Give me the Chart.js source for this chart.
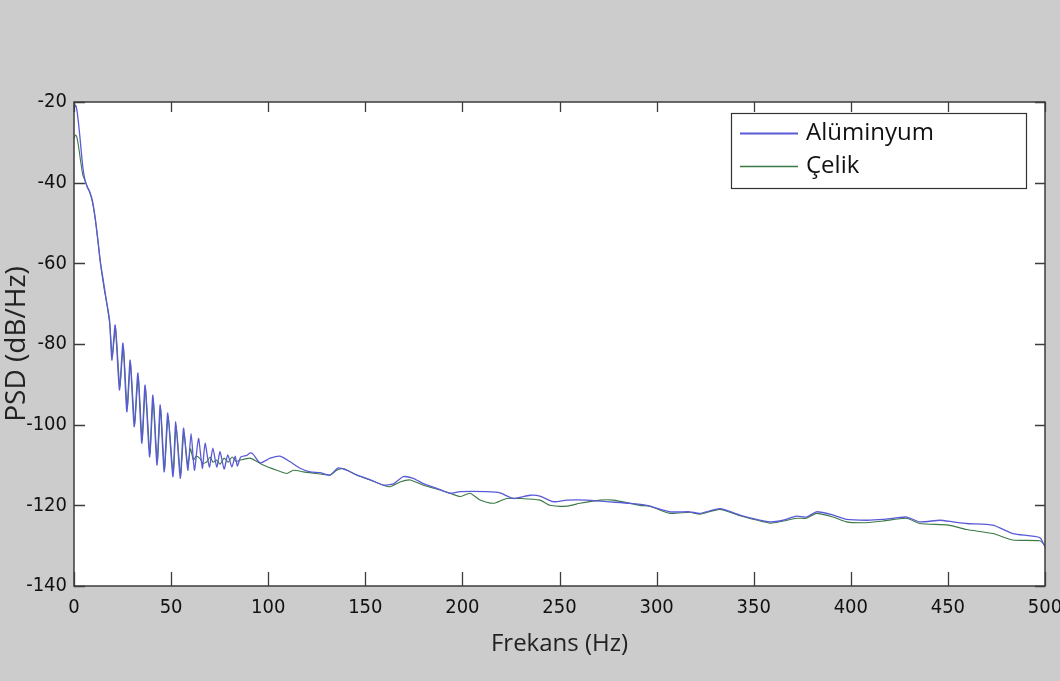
<!DOCTYPE html>
<html>
<head>
<meta charset="utf-8">
<script src="https://cdn.jsdelivr.net/npm/chart.js@4.4.1/dist/chart.umd.min.js"></script>
<style>
  html, body { margin: 0; padding: 0; background: #cccccc; }
  #wrap { width: 1060px; height: 681px; position: relative; }
</style>
</head>
<body>
<div id="wrap"><canvas id="c" width="1060" height="681"></canvas></div>
<script>
// ---------- data ----------
const seriesNames = ['Alüminyum', 'Çelik'];

const freqAl = [0, 0.7, 1.5, 2.5, 3.5, 4.5, 5.5, 6.8, 8, 9.5, 11, 12.5, 13.5, 15, 16.6, 18.3,
  19.5, 21.2, 23.4, 25.2, 27.2, 28.9, 31.0, 32.9, 34.9, 36.6, 38.9, 40.6, 42.7, 44.4, 46.4, 48.3,
  50.9, 52.4, 54.7, 56.4, 58.6, 60.3, 62.0, 64.1, 66.1, 67.5, 69.7, 71.5, 73.5, 75.2, 77.3, 79.2,
  81.3, 83.0, 84.1, 85.9, 89.0, 90.7, 92.2, 95.8, 101, 106.1, 111.3, 116.4, 121.6, 126.7, 131.8,
  136.1, 140.5, 145.6, 152.4, 159.3, 164.4, 169.6, 174.7, 179.9, 186.8, 193.6, 198.8, 212.5, 219.4,
  226.2, 234.8, 239.9, 246.8, 253.7, 264.0, 274.3, 286.3, 294.9, 306.9, 317.1, 322.3, 332.6, 342.9,
  358.3, 365.2, 372.0, 377.2, 382.3, 390.9, 397.8, 408.1, 416.6, 428.7, 435.5, 445.8, 452.7, 459.6,
  473.2, 483.5, 497.3, 500];
const psdAl = [-21.8, -20.8, -22, -26, -31, -36, -39, -41, -42.2, -44.5, -49, -55, -59.5, -64, -69, -74,
  -84.0, -75.3, -91.4, -79.8, -96.8, -84.0, -100.5, -87.2, -104.6, -90.2, -108.0, -92.7, -110.0, -95.1, -111.7, -97.1,
  -112.9, -99.3, -113.3, -100.9, -111.3, -102.2, -111.3, -103.4, -110.8, -104.6, -110.5, -105.8, -110.5, -106.7, -111.0, -107.5,
  -110.5, -107.8, -110.3, -108.0, -107.6, -107.0, -107.3, -109.5, -108.3, -107.8, -109.2, -110.8, -111.7, -111.9, -112.5,
  -110.7, -111.3, -112.5, -113.6, -115.0, -114.7, -112.9, -113.3, -114.6, -115.8, -117.0, -116.6, -116.6, -116.9,
  -118.3, -117.5, -117.7, -119.1, -118.7, -118.7, -119.1, -119.5, -120.0, -121.6, -121.6, -122.0, -120.8, -122.4,
  -124.1, -123.7, -122.7, -122.9, -121.6, -122.4, -123.5, -123.7, -123.5, -122.9, -124.1, -123.7, -124.1, -124.5,
  -124.9, -127.0, -128.0, -130.3];

const freqCe = [0, 0.8, 1.6, 2.5, 3.5, 4.5, 5.5, 6.8, 8, 9.5, 11, 12.5, 14, 15.5, 17, 18.5,
  19.7, 21.4, 23.6, 25.4, 27.4, 29.1, 31.2, 33.1, 35.1, 36.8, 39.1, 40.8, 42.9, 44.6, 46.6, 48.5,
  51.1, 52.6, 54.9, 56.6, 58.6, 60.0, 61.5, 62.9, 64.9, 66.5, 68.4, 70.1, 71.6, 73.5, 75.2, 77.3,
  79.4, 81.4, 83.5, 85.4, 90.7, 97.4, 104.4, 109.6, 113.0, 118.1, 125.0, 131.9, 135.3, 138.7, 143.9,
  150.7, 159.3, 162.7, 167.9, 173.0, 179.9, 188.5, 193.6, 198.8, 203.9, 209.1, 215.9, 222.8, 229.6,
  239.9, 245.1, 253.7, 260.5, 270.8, 277.7, 291.4, 296.5, 306.9, 317.1, 322.3, 332.6, 342.9, 358.3,
  365.2, 372.0, 377.2, 382.3, 390.9, 397.8, 408.1, 416.6, 428.7, 435.5, 450.3, 459.6, 473.2, 483.5,
  497.3, 500];
const psdCe = [-29, -28.2, -29, -31.5, -35, -38, -39.3, -41, -42.2, -44.8, -49.3, -55.3, -61.3, -66.2, -70.3, -75.5,
  -83.0, -76.0, -90.5, -80.5, -96.0, -84.8, -99.8, -88.0, -103.8, -91.0, -107.2, -93.5, -109.2, -96.0, -111.0, -98.0,
  -112.2, -100.3, -112.5, -102.0, -110.0, -106.0, -108.8, -107.8, -108.4, -109.6, -109.2, -108.0, -109.3, -108.8, -109.8, -108.3,
  -109.3, -108.0, -109.1, -108.8, -108.3, -110.0, -111.3, -112.1, -111.3, -111.7, -112.1, -112.5, -111.3, -110.9, -112.1,
  -113.4, -115.0, -115.4, -114.2, -113.7, -115.0, -116.2, -117.0, -117.8, -117.0, -118.7, -119.5, -118.3, -118.3,
  -118.7, -120.0, -120.2, -119.5, -118.7, -118.7, -120.0, -120.2, -122.0, -121.7, -122.2, -121.0, -122.6, -124.4,
  -123.9, -123.2, -123.2, -122.0, -122.9, -124.1, -124.3, -123.9, -123.2, -124.5, -124.9, -126.0, -127.0, -128.6,
  -128.8, -129.9];

const xTickValues = [0, 50, 100, 150, 200, 250, 300, 350, 400, 450, 500];
const yTickValues = [-140, -120, -100, -80, -60, -40, -20];
const xAxisTitle = 'Frekans (Hz)';
const yAxisTitle = 'PSD (dB/Hz)';

// ---------- helpers ----------
const toPoints = (xs, ys) => xs.map((x, i) => ({ x: x, y: ys[i] }));

// pick a narrow font for tick labels if one is installed
function hasFont(name) {
  const cx = document.createElement('canvas').getContext('2d');
  const s = 'mmmwww-1408';
  cx.font = '30px monospace'; const a = cx.measureText(s).width;
  cx.font = "30px '" + name + "', monospace"; const b = cx.measureText(s).width;
  return Math.abs(a - b) > 0.5;
}
const narrowOK = hasFont('Liberation Sans Narrow');
const NARROW = narrowOK ? "'Liberation Sans Narrow', sans-serif" : "'DejaVu Sans Condensed', sans-serif";
const TICKSIZE = narrowOK ? 22 : 20;
const LABELF = "'Open Sans', 'Noto Sans', sans-serif";

// background + MATLAB-style box with inward ticks + boxed legend
const matlabPlugin = {
  id: 'matlabBox',
  beforeDraw(chart) {
    const { ctx, chartArea: a } = chart;
    ctx.save();
    ctx.fillStyle = '#cccccc';
    ctx.fillRect(0, 0, chart.width, chart.height);
    ctx.fillStyle = '#ffffff';
    ctx.fillRect(a.left, a.top, a.right - a.left, a.bottom - a.top);
    ctx.restore();
  },
  afterDatasetsDraw(chart) {
    const { ctx, chartArea: a, scales } = chart;
    ctx.save();
    ctx.strokeStyle = '#3c3c3c';
    ctx.lineWidth = 1.5;
    ctx.strokeRect(a.left, a.top, a.right - a.left, a.bottom - a.top);
    ctx.lineWidth = 1.3;
    ctx.beginPath();
    scales.x.ticks.forEach(t => {
      const px = Math.round(scales.x.getPixelForValue(t.value)) + 0.5;
      ctx.moveTo(px, a.bottom); ctx.lineTo(px, a.bottom - 14);
      ctx.moveTo(px, a.top); ctx.lineTo(px, a.top + 10);
    });
    scales.y.ticks.forEach(t => {
      const py = Math.round(scales.y.getPixelForValue(t.value)) + 0.5;
      ctx.moveTo(a.left, py); ctx.lineTo(a.left + 11, py);
      ctx.moveTo(a.right, py); ctx.lineTo(a.right - 10, py);
    });
    ctx.stroke();

    // legend box
    const lx = 731, ly = 113, lw = 295, lh = 75;
    ctx.fillStyle = '#ffffff';
    ctx.fillRect(lx, ly, lw, lh);
    ctx.strokeStyle = '#333333';
    ctx.lineWidth = 1.2;
    ctx.strokeRect(lx + 0.5, ly + 0.5, lw, lh);
    const rows = [133.5, 166.5];
    ctx.font = '24px ' + LABELF;
    ctx.textBaseline = 'middle';
    ctx.textAlign = 'left';
    chart.data.datasets.forEach((ds, i) => {
      ctx.strokeStyle = ds.borderColor;
      ctx.lineWidth = i === 0 ? 2 : 1.3;
      ctx.beginPath();
      ctx.moveTo(740, rows[i]); ctx.lineTo(798, rows[i]);
      ctx.stroke();
      ctx.fillStyle = '#111111';
      ctx.fillText(ds.label, 806, rows[i]);
    });
    ctx.restore();
  }
};

new Chart(document.getElementById('c'), {
  type: 'line',
  data: {
    datasets: [
      { label: seriesNames[0], data: toPoints(freqAl, psdAl), borderColor: '#5a5ad8', borderWidth: 1.3,
        pointRadius: 0, tension: 0.2, fill: false },
      { label: seriesNames[1], data: toPoints(freqCe, psdCe), borderColor: '#3b7a45', borderWidth: 1.1,
        pointRadius: 0, tension: 0.2, fill: false }
    ]
  },
  options: {
    responsive: false,
    animation: false,
    devicePixelRatio: 1,
    layout: { padding: { left: 0, top: 102, right: 15, bottom: 0 } },
    plugins: { legend: { display: false }, tooltip: { enabled: false } },
    scales: {
      x: {
        type: 'linear', min: 0, max: 500,
        afterBuildTicks: s => { s.ticks = xTickValues.map(v => ({ value: v })); },
        afterFit: s => { s.height = 95; s.paddingLeft = 0; s.paddingRight = 0; },
        grid: { display: false, drawTicks: false },
        border: { display: false },
        ticks: { font: { family: NARROW, size: TICKSIZE }, color: '#111', padding: 10, maxRotation: 0, autoSkip: false },
        title: { display: true, text: xAxisTitle, color: '#222', font: { family: LABELF, size: 24 },
                 padding: { top: 0, bottom: 22 } }
      },
      y: {
        type: 'linear', min: -140, max: -20,
        afterBuildTicks: s => { s.ticks = yTickValues.map(v => ({ value: v })); },
        afterFit: s => { s.width = 74; s.paddingTop = 0; s.paddingBottom = 0; },
        grid: { display: false, drawTicks: false },
        border: { display: false },
        ticks: { font: { family: NARROW, size: TICKSIZE }, color: '#111', padding: 7, autoSkip: false },
        title: { display: true, text: yAxisTitle, color: '#222', font: { family: LABELF, size: 28 },
                 padding: { top: 0, bottom: 0 } }
      }
    }
  },
  plugins: [matlabPlugin]
});
</script>
</body>
</html>
